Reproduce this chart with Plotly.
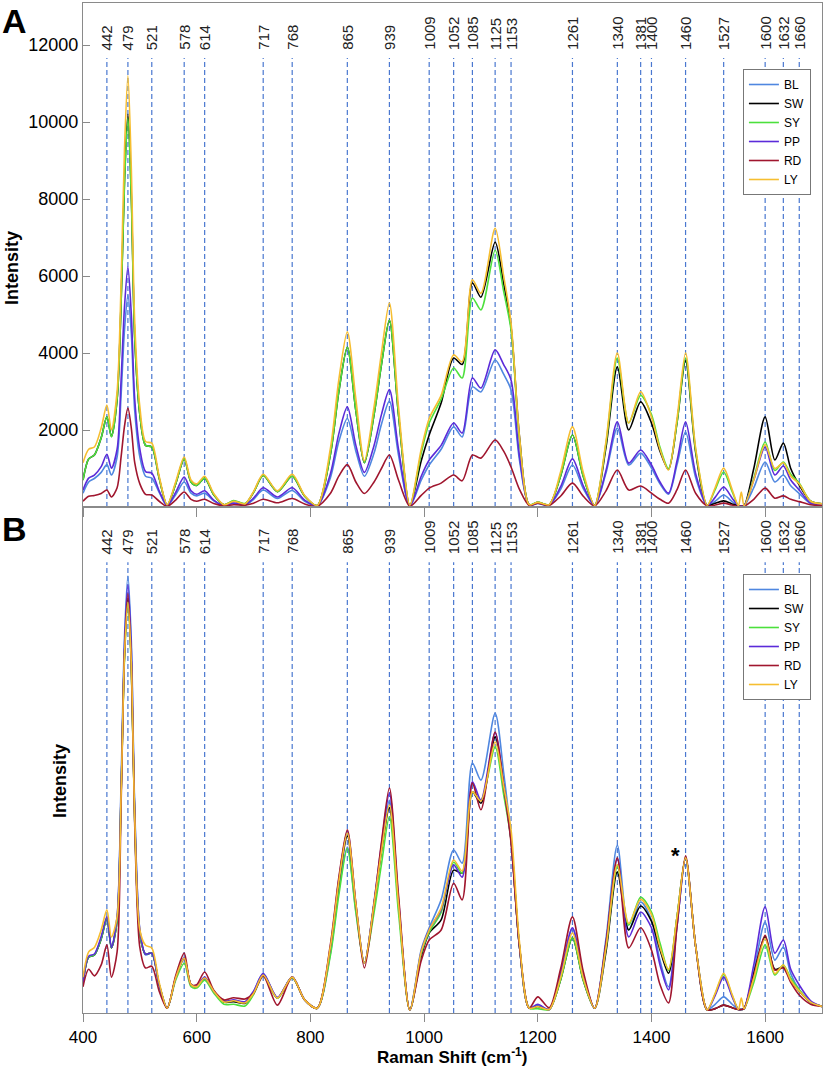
import plotly.graph_objects as go

# ---------------- data ----------------
wavenumber = [400, 410, 420, 432, 442, 450, 460, 467, 473, 479,
              485, 491, 500, 510, 521, 534, 548, 563, 578, 590,
              600, 614, 630, 648, 665, 685, 700, 717, 742, 768,
              790, 812, 835, 850, 865, 880, 895, 912, 925, 939,
              955, 975, 995, 1009, 1030, 1052, 1067, 1085, 1100, 1125,
              1140, 1153, 1168, 1185, 1200, 1220, 1240, 1261, 1280, 1300,
              1320, 1340, 1360, 1381, 1400, 1415, 1430, 1445, 1460, 1478,
              1498, 1512, 1527, 1542, 1553, 1558, 1563, 1580, 1600, 1617,
              1632, 1645, 1660, 1680, 1700]

series_names = ["BL", "SW", "SY", "PP", "RD", "LY"]

# Panel A (raw intensity)
A_LY = [1150, 1500, 1560, 2050, 2650, 2000, 3000, 5800, 9300, 11200,
        8800, 4800, 2600, 1700, 1660, 800, 60, 650, 1300, 700,
        600, 800, 350, 60, 150, 80, 400, 850, 420, 850,
        300, 40, 1500, 3300, 4550, 2800, 1200, 2600, 4000, 5300,
        2600, 50, 1500, 2300, 2900, 3950, 3770, 5900, 5550, 7240,
        6000, 4780, 1800, 60, 120, 60, 900, 2080, 900, 40,
        1700, 4000, 2180, 2990, 2340, 1500, 960, 2300, 4000, 1500,
        40, 500, 1010, 450, 30, 390, 30, 700, 1620, 1000,
        1150, 800, 600, 150, 80]
A_SW = [700, 1250, 1350, 1800, 2340, 1830, 2800, 5300, 8500, 10200,
        8100, 4400, 2400, 1600, 1560, 750, 50, 600, 1250, 650,
        560, 750, 320, 60, 150, 80, 380, 820, 400, 800,
        280, 40, 1350, 3000, 4150, 2500, 1150, 2400, 3700, 4850,
        2400, 40, 1200, 1870, 2700, 3870, 3700, 5820, 5450, 6880,
        5800, 4680, 1800, 60, 120, 60, 800, 1870, 800, 40,
        1550, 3640, 2000, 2730, 2180, 1450, 980, 2200, 3800, 1400,
        40, 100, 160, 80, 30, 30, 30, 1000, 2340, 1220,
        1660, 1000, 570, 150, 80]
A_SY = [700, 1250, 1350, 1800, 2340, 1820, 2800, 5300, 8400, 10100,
        8000, 4400, 2400, 1600, 1560, 750, 50, 600, 1250, 650,
        560, 750, 320, 60, 170, 90, 380, 820, 400, 800,
        280, 40, 1350, 3000, 4150, 2500, 1150, 2400, 3700, 4850,
        2400, 40, 1400, 2180, 2800, 3610, 3350, 5430, 5120, 6670,
        5600, 4600, 1700, 60, 130, 60, 800, 1870, 800, 40,
        1650, 3870, 2180, 2900, 2400, 1550, 1000, 2200, 3870, 1450,
        40, 450, 910, 400, 30, 30, 30, 750, 1690, 950,
        1170, 850, 620, 150, 80]
A_PP = [440, 750, 830, 1050, 1370, 1010, 1500, 3300, 5200, 6230,
        5000, 2800, 1500, 920, 880, 420, 40, 380, 780, 420,
        330, 420, 180, 40, 100, 60, 230, 500, 260, 500,
        180, 30, 850, 1900, 2600, 1600, 900, 1600, 2400, 3050,
        1500, 30, 800, 1220, 1600, 2180, 1920, 3350, 3090, 4080,
        3700, 3300, 1300, 50, 100, 50, 520, 1250, 550, 40,
        950, 2210, 1140, 1480, 1090, 650, 360, 1200, 2210, 850,
        40, 250, 520, 230, 30, 30, 30, 700, 1560, 830,
        1065, 700, 440, 100, 60]
A_BL = [360, 650, 740, 900, 1100, 830, 1300, 2900, 4600, 5500,
        4500, 2500, 1300, 800, 750, 380, 30, 320, 650, 360,
        290, 360, 160, 40, 90, 50, 200, 440, 220, 430,
        150, 30, 750, 1700, 2300, 1450, 800, 1400, 2150, 2750,
        1350, 30, 700, 1090, 1500, 2080, 1820, 3120, 2990, 3820,
        3450, 3040, 1200, 50, 90, 50, 450, 1090, 480, 40,
        880, 2050, 1090, 1400, 1010, 600, 330, 1100, 1950, 750,
        40, 150, 310, 140, 30, 30, 30, 500, 1170, 650,
        830, 550, 350, 90, 60]
A_RD = [150, 280, 300, 350, 440, 260, 500, 1300, 2100, 2570,
        2050, 1150, 600, 330, 310, 150, 20, 180, 390, 200,
        150, 200, 90, 30, 60, 50, 100, 200, 110, 220,
        80, 20, 350, 800, 1100, 650, 350, 650, 1000, 1350,
        700, 20, 300, 490, 620, 830, 680, 1350, 1270, 1740,
        1450, 1040, 450, 40, 100, 40, 280, 620, 280, 30,
        420, 960, 440, 545, 360, 200, 100, 450, 960, 350,
        30, 50, 100, 50, 20, 20, 20, 200, 490, 230,
        290, 200, 140, 60, 40]

# Panel B (normalised intensity, a.u.)
B_LY = [8.2, 14, 15, 19, 23.6, 17.4, 22, 50, 82, 94,
        80, 45, 19, 15.5, 14.9, 7, 1.1, 8, 12.5, 6.5,
        6, 8, 5, 2.5, 2.8, 2.3, 4.5, 8.7, 3.4, 8.2,
        3, 1.1, 15, 30, 41.2, 25, 11.4, 25, 37, 47.6,
        25, 0.7, 14, 19, 24, 35, 32.5, 50.6, 48.5, 62,
        52, 41.9, 16, 1.1, 1.5, 0.8, 8, 18.3, 8, 1.1,
        15, 34, 20.5, 26, 22.5, 15, 10, 22, 35.5, 15,
        0.7, 4.5, 9.1, 4.2, 0.8, 3.4, 1.0, 8, 17, 9,
        11, 7.5, 5, 2.5, 1.5]
B_SW = [6.9, 12.8, 13.3, 17, 21.7, 14.9, 21, 50, 82, 95,
        80, 44, 18, 13.5, 13.7, 6.5, 1.1, 8, 12.5, 6.5,
        6, 8, 5, 2.5, 2.6, 2.2, 4.5, 8.7, 3.4, 8.2,
        3, 1.1, 14.5, 29.5, 40.5, 24.5, 11.4, 25, 37, 47,
        25, 0.7, 13, 18.3, 21.3, 32.7, 32.0, 50.6, 48, 63.2,
        52, 39.6, 15, 1.1, 1.5, 0.8, 7.5, 17.2, 7.5, 1.1,
        14, 32.3, 19, 24.5, 21, 14.5, 9.1, 22, 35.5, 15,
        0.7, 1.0, 1.8, 1.2, 0.8, 0.8, 1.0, 9, 17.5, 10,
        10.5, 7.5, 5, 2.5, 1.5]
B_SY = [6.9, 12.8, 13.3, 17, 21.7, 14.9, 21, 50, 81, 94,
        79, 44, 18, 13.5, 13.7, 6.5, 1.1, 7.5, 11.4, 6,
        5.7, 7.5, 4.6, 2, 2.0, 1.6, 4.2, 8.5, 3.4, 8.0,
        3, 1.1, 13, 27, 37.7, 23, 11.4, 23, 34, 44.9,
        23, 0.7, 13.5, 18.5, 23, 34.5, 32, 50.6, 48.7, 60.9,
        50, 39.6, 15, 1.1, 1.0, 0.8, 7.5, 17.2, 7.5, 1.1,
        15, 33.5, 20.1, 26.5, 23.1, 16, 9.8, 22, 35.5, 15,
        0.7, 4.3, 8.8, 4, 0.8, 0.8, 1.0, 7, 15.6, 8.7,
        11.0, 8, 5.3, 2.5, 1.5]
B_PP = [6.9, 13, 13.5, 17.5, 22, 15, 22, 51, 84, 98,
        83, 46, 19, 13.5, 13.7, 6.5, 1.1, 8, 12.6, 6.5,
        6.2, 8.2, 5, 2.8, 3.0, 2.6, 5, 9, 3.6, 8.3,
        3, 1.1, 15, 30.5, 41.6, 25, 11.4, 25.5, 38.5, 50.3,
        26, 0.7, 14, 19.1, 23.6, 33.9, 31.1, 52.9, 48.7, 64.1,
        52, 39.6, 15, 1.1, 2, 0.8, 9, 19.5, 8.5, 1.1,
        16, 35.3, 17.4, 23.1, 19.5, 11, 5.3, 20, 35.5, 15,
        0.7, 4, 8.2, 3.7, 0.8, 0.8, 1.0, 11, 24.3, 13.7,
        16.7, 10, 6.4, 2.8, 1.5]
B_BL = [6.9, 12.8, 13.3, 17, 21.7, 14.9, 22, 53, 86, 100,
        85, 47, 19, 13.3, 13.7, 6.5, 1.1, 8, 12.6, 6.5,
        6, 8, 5, 2.6, 2.8, 2.4, 4.8, 9, 3.5, 8.2,
        3, 1.1, 13.5, 28, 38.0, 23.5, 11.4, 25, 37, 48.7,
        25, 0.7, 14.5, 19.5, 25.9, 37.3, 34.3, 57.2, 53.3, 68.6,
        55, 40, 15, 1.1, 1.8, 0.8, 9, 19.3, 8.5, 1.1,
        17, 38.4, 19.0, 25.4, 21.3, 12, 6.0, 20, 35.5, 15,
        0.7, 2, 3.7, 2, 0.8, 0.8, 1.0, 9.5, 20.8, 12.1,
        15.1, 9, 5.3, 2.5, 1.5]
B_RD = [6, 10, 8.5, 11, 15.6, 8.2, 14, 48, 82, 96,
        80, 43, 15, 10.3, 10.7, 5, 1.1, 8.5, 13.7, 6.5,
        6.5, 9.4, 5.2, 3, 3.5, 3.2, 4.5, 8.5, 1.8, 8.2,
        3, 1.1, 15.5, 31, 41.9, 25, 10.3, 25, 39, 51.5,
        27, 0.7, 12, 16.7, 19.0, 29.7, 25.9, 52.6, 46.5, 64.3,
        52, 39, 15, 1.1, 3.7, 1.2, 10, 22.0, 9.5, 1.1,
        16, 35.5, 14.9, 19.5, 14.4, 6.5, 2.3, 20, 36, 15,
        0.7, 1.0, 1.8, 1.2, 0.8, 0.8, 1.0, 8.5, 17.8, 9.8,
        10.3, 7, 4.1, 2, 1.5]

peaks = [442, 479, 521, 578, 614, 717, 768, 865, 939, 1009, 1052, 1085,
         1125, 1153, 1261, 1340, 1381, 1400, 1460, 1527, 1600, 1632, 1660]

x_ticks = [400, 600, 800, 1000, 1200, 1400, 1600]
y_ticks_A = [2000, 4000, 6000, 8000, 10000, 12000]

# ---------------- style ----------------
colors = {"BL": "#4F87E0", "SW": "#000000", "SY": "#4CE03C",
          "PP": "#5B2BD9", "RD": "#A0162E", "LY": "#F6BE31"}
FONT = "Liberation Sans, Arial, sans-serif"
AX = "#8a8a8a"

panel_A = {"BL": A_BL, "SW": A_SW, "SY": A_SY, "PP": A_PP, "RD": A_RD, "LY": A_LY}
panel_B = {"BL": B_BL, "SW": B_SW, "SY": B_SY, "PP": B_PP, "RD": B_RD, "LY": B_LY}

fig = go.Figure()
for n in series_names:
    fig.add_trace(go.Scatter(x=wavenumber, y=panel_A[n], name=n, mode="lines",
                             line=dict(color=colors[n], width=1.6, shape="spline", smoothing=0.8),
                             xaxis="x", yaxis="y", legend="legend"))
for n in series_names:
    fig.add_trace(go.Scatter(x=wavenumber, y=panel_B[n], name=n, mode="lines",
                             line=dict(color=colors[n], width=1.6, shape="spline", smoothing=0.8),
                             xaxis="x2", yaxis="y2", legend="legend2"))

# geometry (pixels)
W, H = 826, 1067
L, R, T, B = 83, 4, 3, 54
plot_h = H - T - B
split_px = 507
split = (H - B - split_px) / plot_h


def py_to_paper(py):
    return (H - B - py) / plot_h


def px_to_paper(px):
    return (px - L) / (W - L - R)


shapes = []
annotations = []
for p in peaks:
    for xr, yr, lab_py in (("x", "y domain", 52), ("x2", "y2 domain", 556)):
        shapes.append(dict(type="line", xref=xr, yref=yr, x0=p, x1=p, y0=0, y1=0.891,
                           line=dict(color="#4A78D0", width=1.2, dash="5px,3px"), layer="below"))
        annotations.append(dict(text=str(p), x=p, xref=xr, y=py_to_paper(lab_py), yref="paper",
                                textangle=-90, xanchor="center", yanchor="bottom", showarrow=False,
                                font=dict(size=15, color="#222222", family=FONT)))


def label(text, px, py, size, angle=0, bold=True):
    return dict(text=text, x=px_to_paper(px), y=py_to_paper(py), xref="paper", yref="paper",
                xanchor="center", yanchor="middle", textangle=angle, showarrow=False,
                font=dict(size=size, family=FONT, weight="bold" if bold else "normal", color="black"))


annotations += [
    label("A", 14, 21, 34),
    label("B", 14, 529, 34),
    label("Intensity", 12, 268, 18, angle=-90),
    label("Intensity", 60, 781, 18, angle=-90),
    label("Raman Shift (cm<sup>-1</sup>)", 452, 1056, 17),
    dict(text="*", x=1443, y=36, xref="x2", yref="y2", xanchor="center", yanchor="middle",
         showarrow=False, font=dict(size=22, family=FONT, weight="bold", color="black")),
]

axis_common = dict(showline=True, linecolor=AX, linewidth=1.3, mirror=True,
                   showgrid=False, zeroline=False, tickcolor=AX, tickwidth=1.3)

legend_common = dict(x=0.985, xanchor="right", yanchor="top", bgcolor="white",
                     bordercolor="#777777", borderwidth=1, itemwidth=30, tracegroupgap=0,
                     font=dict(size=12, family=FONT, color="black"))

fig.update_layout(
    width=W, height=H,
    margin=dict(l=L, r=R, t=T, b=B),
    paper_bgcolor="white", plot_bgcolor="rgba(0,0,0,0)",
    font=dict(family=FONT, color="black"),
    xaxis=dict(domain=[0, 1], anchor="y", range=[400, 1700], tickvals=x_ticks,
               ticks="outside", ticklen=9, showticklabels=False, **axis_common),
    yaxis=dict(domain=[split, 1], anchor="x", range=[0, 13091], tickvals=y_ticks_A,
               tickformat="d", ticks="inside", ticklen=7,
               tickfont=dict(size=18, family=FONT, color="black"), **axis_common),
    xaxis2=dict(domain=[0, 1], anchor="y2", range=[400, 1700], tickvals=x_ticks,
                ticks="outside", ticklen=8, tickfont=dict(size=17, family=FONT, color="black"),
                **axis_common),
    yaxis2=dict(domain=[0, split], anchor="x2", range=[0, 115.8], showticklabels=False,
                ticks="", **axis_common),
    legend=dict(y=py_to_paper(69), **legend_common),
    legend2=dict(y=py_to_paper(574), **legend_common),
    shapes=shapes,
    annotations=annotations,
    showlegend=True,
)

# remove the browser's default page margin so the figure sits at the window's top-left corner
fig.write_html("out.html", config={"displayModeBar": False},
               post_script="document.body.style.margin='0px';")
